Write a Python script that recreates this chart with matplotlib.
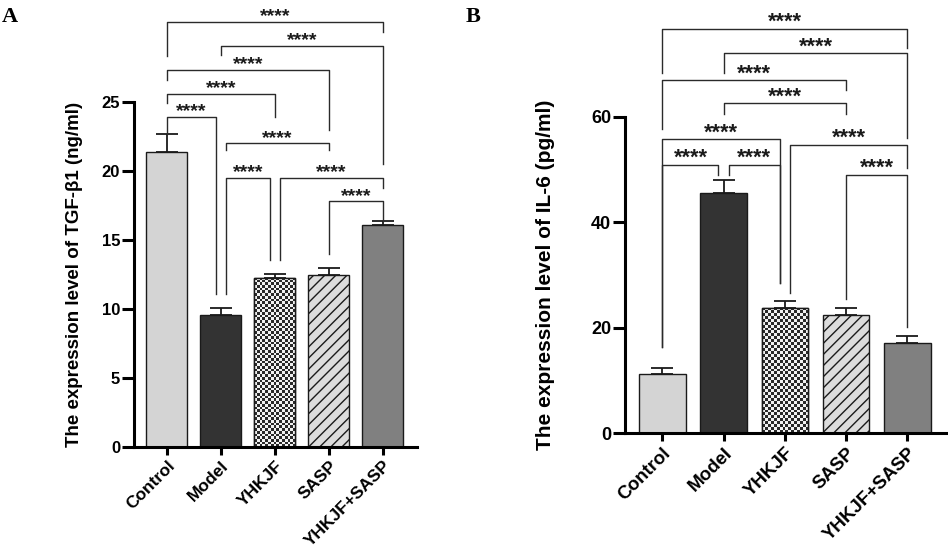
import numpy as np
import matplotlib
matplotlib.use("Agg")
import matplotlib.pyplot as plt
from matplotlib.colors import ListedColormap

plt.rcParams['font.family'] = ['Liberation Sans', 'DejaVu Sans']

groups = ["Control", "Model", "YHKJF", "SASP", "YHKJF+SASP"]
tgf_mean = [21.4, 9.57, 12.27, 12.44, 16.06]
tgf_sd = [1.3, 0.5, 0.27, 0.56, 0.34]
il6_mean = [11.2, 45.6, 23.8, 22.5, 17.2]
il6_sd = [1.1, 2.4, 1.26, 1.2, 1.2]
sig_label = "****"

# comparisons (group index pairs)
tgf_pairs = [(0, 4), (1, 4), (0, 3), (0, 2), (0, 1), (1, 3), (1, 2), (2, 4), (3, 4)]
il6_pairs = [(0, 4), (1, 4), (0, 3), (1, 3), (0, 2), (0, 1), (1, 2), (2, 4), (3, 4)]

W, H = 948, 551
fig = plt.figure(figsize=(W / 100, H / 100), dpi=100)

def px_axes(x0, x1, y_bottom, y_top):
    return fig.add_axes([x0 / W, (H - y_bottom) / H, (x1 - x0) / W, (y_bottom - y_top) / H])

OFF = 0.085
# bracket layout: (y_line, left_bottom, right_bottom, left_off, right_off)
tgf_layout = [
    (30.8, 28.3, 30.1, 0, 0),
    (29.06, 28.4, 20.5, 0, 0),
    (27.3, 26.6, 23.0, 0, 0),
    (25.6, 24.9, 23.9, 0, 0),
    (23.9, 22.7, 11.1, 0, -OFF),
    (22.0, 21.5, 21.5, OFF, 0),
    (19.5, 11.1, 13.55, OFF, -OFF),
    (19.5, 13.55, 18.8, OFF, 0),
    (17.8, 14.0, 16.4, 0, 0),
]
il6_layout = [
    (76.7, 68.2, 73.0, 0, 0),
    (72.0, 68.3, 56.0, 0, 0),
    (66.9, 57.6, 65.0, 0, 0),
    (62.6, 60.6, 60.6, 0, 0),
    (55.7, 16.4, 28.5, 0, -OFF),
    (50.9, 16.4, 49.0, 0, -OFF),
    (50.9, 49.0, 28.5, OFF, -OFF),
    (54.7, 26.5, 50.2, OFF, 0),
    (49.0, 25.4, 20.2, 0, 0),
]

face = ['#d4d4d4', '#333333', 'white', '#dcdcdc', '#808080']
chk_cmap = ListedColormap(['#2a2a2a', '#f2f2f2'])


def panel(ax, means, sds, ylim, yticks, ylabel, pairs, layout, fs_tick, fs_x, fs_lab, fs_star, cell_px):
    x = np.arange(len(groups))
    ax.set_xlim(-0.61, 4.63)
    ax.set_ylim(0, ylim)
    bars = ax.bar(x, means, width=0.76, color=face, edgecolor='#1a1a1a', linewidth=1.0, zorder=2)
    bars[3].set_hatch('///')
    ax.errorbar(x, means, yerr=[np.zeros(len(sds)), sds], fmt='none', ecolor='#1a1a1a',
                elinewidth=1.3, capsize=8, capthick=1.3, zorder=1)
    # checkerboard fill for the YHKJF bar
    b = bars[2]
    bx0, by0 = b.get_x(), 0
    bx1, by1 = b.get_x() + b.get_width(), b.get_height()
    p0 = ax.transData.transform((bx0, by0))
    p1 = ax.transData.transform((bx1, by1))
    nx = max(1, int(round((p1[0] - p0[0]) / cell_px)))
    ny = max(1, int(round((p1[1] - p0[1]) / cell_px)))
    chk = (np.add.outer(np.arange(ny), np.arange(nx)) % 2).astype(float)
    im = ax.imshow(chk, extent=(bx0, bx1, by0, by1), cmap=chk_cmap, vmin=0, vmax=1,
                   interpolation='nearest', aspect='auto', zorder=2.1)
    im.set_clip_path(b)
    ax.add_patch(plt.Rectangle((bx0, by0), bx1 - bx0, by1 - by0, fill=False,
                               edgecolor='#1a1a1a', linewidth=1.0, zorder=2.2))
    ax.set_xlim(-0.61, 4.63)
    ax.set_ylim(0, ylim)

    for s in ['top', 'right']:
        ax.spines[s].set_visible(False)
    for s in ['left', 'bottom']:
        ax.spines[s].set_linewidth(2.2)
    ax.tick_params(axis='y', width=2.2, length=8.5, labelsize=fs_tick, pad=1.5)
    ax.tick_params(axis='x', width=2.2, length=6, pad=2)
    ax.set_yticks(yticks)
    ax.set_yticklabels([str(t) for t in yticks], fontweight='bold')
    ax.set_xticks(x)
    ax.set_xticklabels(groups, rotation=45, ha='right', rotation_mode='anchor',
                       fontweight='bold', fontsize=fs_x)
    ax.set_ylabel(ylabel, fontsize=fs_lab, fontweight='bold')

    for (i, j), (yl, lb, rb, lo, ro) in zip(pairs, layout):
        xl, xr = i + lo, j + ro
        ax.plot([xl, xl, xr, xr], [lb, yl, yl, rb], color='#2a2a2a', lw=1.0,
                clip_on=False, zorder=3)
        ax.annotate(sig_label, xy=((xl + xr) / 2, yl), xytext=(0, 0.5), textcoords='offset points',
                    ha='center', va='baseline', fontsize=fs_star, fontweight='bold',
                    annotation_clip=False, color='#1a1a1a')


axA = px_axes(134, 417, 447, 102)
panel(axA, tgf_mean, tgf_sd, 25, [0, 5, 10, 15, 20, 25],
      "The expression level of TGF-β1 (ng/ml)", tgf_pairs, tgf_layout,
      fs_tick=12, fs_x=12.5, fs_lab=13.5, fs_star=14, cell_px=2.7)
axA.yaxis.set_label_coords(-0.18, 0.5)

axB = px_axes(625, 946, 433.3, 116.7)
panel(axB, il6_mean, il6_sd, 60, [0, 20, 40, 60],
      "The expression level of IL-6 (pg/ml)", il6_pairs, il6_layout,
      fs_tick=13, fs_x=13.5, fs_lab=15, fs_star=15.5, cell_px=2.9)
axB.yaxis.set_label_coords(-0.218, 0.5)

fig.text(2 / W, 1 - 22 / H, "A", fontsize=16, fontweight='bold', family='Liberation Serif')
fig.text(466 / W, 1 - 22 / H, "B", fontsize=16, fontweight='bold', family='Liberation Serif')

fig.savefig("out.png", dpi=100)
